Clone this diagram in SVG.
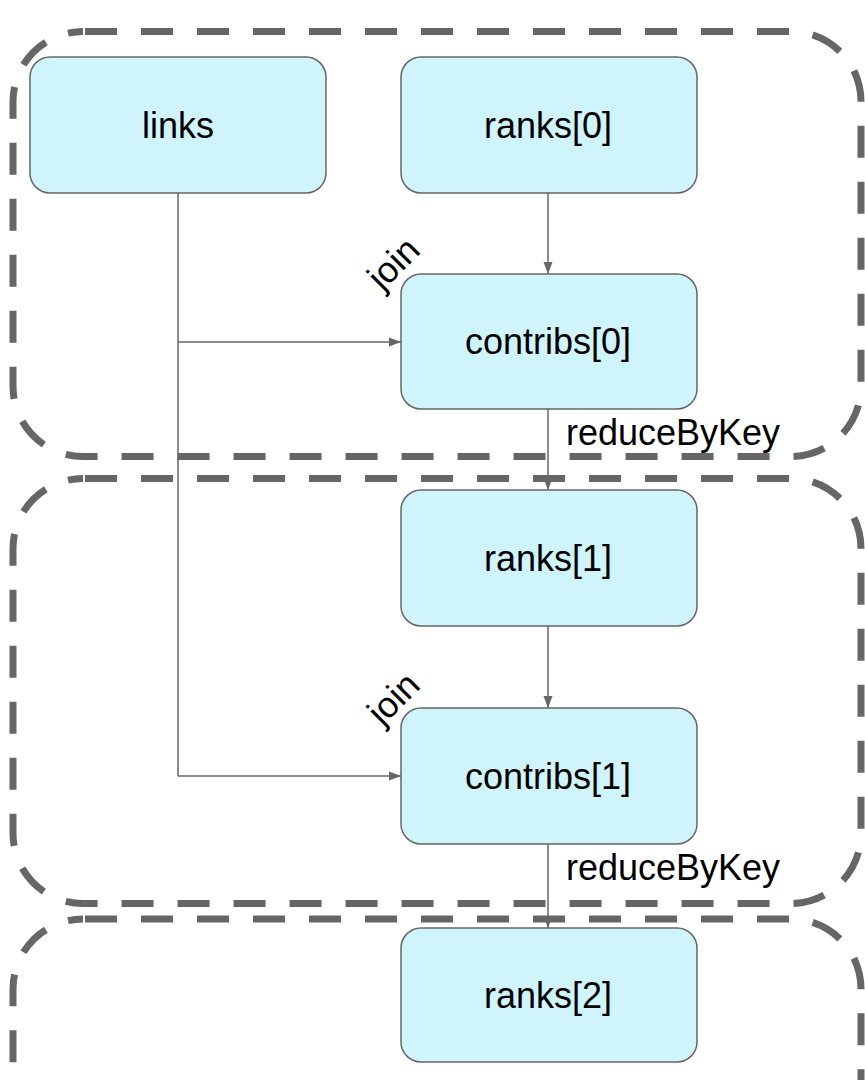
<svg xmlns="http://www.w3.org/2000/svg" width="865" height="1080" viewBox="0 0 865 1080">
  <style>
    .grp { fill: none; stroke: #666666; stroke-width: 7; stroke-dasharray: 32 24; }
    .node rect { fill: #cff4fc; stroke: #666666; stroke-width: 1.5; }
    .node text { font-family: "Liberation Sans", Arial, sans-serif; font-size: 36px; fill: #000000; text-anchor: middle; }
    .edge { fill: none; stroke: #666666; stroke-width: 1.5; }
    .lbl { font-family: "Liberation Sans", Arial, sans-serif; font-size: 36px; fill: #000000; }
  </style>
  <defs>
    <marker id="arr" viewBox="0 0 12 10" refX="12" refY="5" markerWidth="12" markerHeight="10" markerUnits="userSpaceOnUse" orient="auto">
      <path d="M0,0.5 L12,5 L0,9.5 Z" fill="#666666"/>
    </marker>
  </defs>
  <rect fill="#ffffff" x="0" y="0" width="865" height="1080"/>

  <g id="groups">
    <rect class="grp" x="13" y="31.5" width="848" height="425" rx="70" ry="70" stroke-dashoffset="-2"/>
    <rect class="grp" x="13" y="478.5" width="848" height="425" rx="70" ry="70" stroke-dashoffset="-2"/>
    <rect class="grp" x="13" y="919" width="848" height="425" rx="70" ry="70" stroke-dashoffset="-2"/>
  </g>

  <g id="connectors">
    <path class="edge" d="M178,193 L178,776"/>
    <path class="edge" d="M178,342 L401,342" marker-end="url(#arr)"/>
    <path class="edge" d="M178,776 L401,776" marker-end="url(#arr)"/>
    <path class="edge" d="M548,193 L548,274" marker-end="url(#arr)"/>
    <path class="edge" d="M548,409 L548,490" marker-end="url(#arr)"/>
    <path class="edge" d="M548,626 L548,708" marker-end="url(#arr)"/>
    <path class="edge" d="M548,844 L548,928" marker-end="url(#arr)"/>
    <text class="lbl" x="402" y="272" text-anchor="middle" transform="rotate(-45 402 272)">join</text>
    <text class="lbl" x="402" y="707" text-anchor="middle" transform="rotate(-45 402 707)">join</text>
    <text class="lbl" x="566" y="445">reduceByKey</text>
    <text class="lbl" x="566" y="880">reduceByKey</text>
  </g>

  <g id="links" class="node">
    <rect x="30" y="57" width="296" height="136" rx="20" ry="20"/>
    <text x="178" y="137.5">links</text>
  </g>
  <g id="ranks0" class="node">
    <rect x="401" y="57" width="296" height="136" rx="20" ry="20"/>
    <text x="548" y="137.5">ranks[0]</text>
  </g>
  <g id="contribs0" class="node">
    <rect x="401" y="274" width="296" height="135" rx="20" ry="20"/>
    <text x="548" y="354">contribs[0]</text>
  </g>
  <g id="ranks1" class="node">
    <rect x="401" y="490" width="296" height="136" rx="20" ry="20"/>
    <text x="548" y="570.5">ranks[1]</text>
  </g>
  <g id="contribs1" class="node">
    <rect x="401" y="708" width="296" height="136" rx="20" ry="20"/>
    <text x="548" y="789">contribs[1]</text>
  </g>
  <g id="ranks2" class="node">
    <rect x="401" y="928" width="296" height="134" rx="20" ry="20"/>
    <text x="548" y="1008">ranks[2]</text>
  </g>
</svg>
